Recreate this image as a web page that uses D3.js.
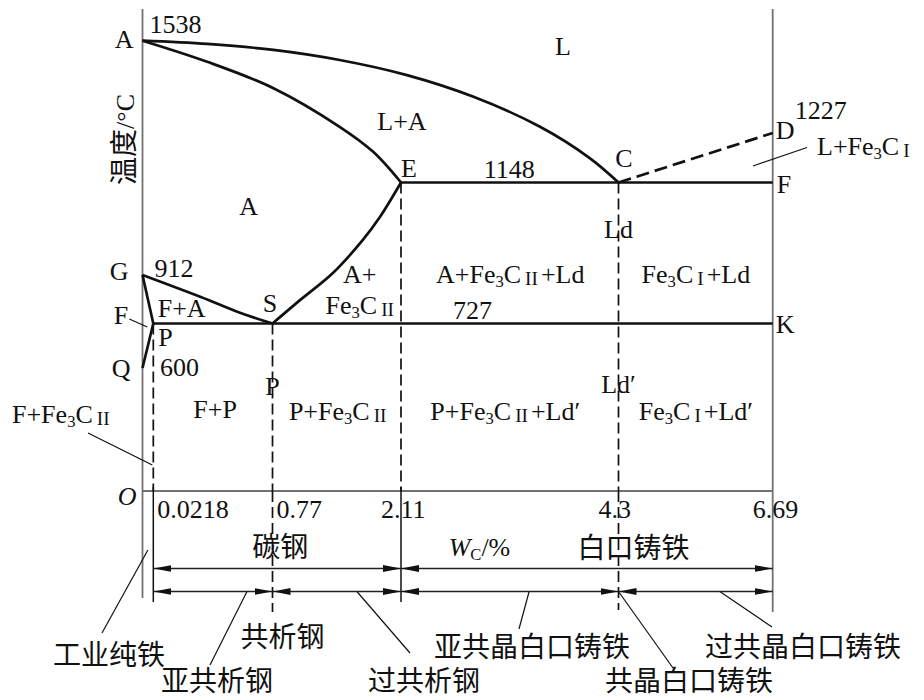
<!DOCTYPE html>
<html>
<head>
<meta charset="utf-8">
<script src="https://cdn.jsdelivr.net/npm/d3@7"></script>
<style>
  body { margin: 0; background: #fff; }
  svg { display: block; }
</style>
</head>
<body>
<svg id="chart" width="924" height="700"></svg>
<script>
// ---- Fe–Fe3C phase diagram (schematic, simplified) ----

// carbon content (wt%) of the characteristic compositions, with their tick labels
const compTicks = [0, 0.0218, 0.77, 2.11, 4.3, 6.69];
const compTickLabels = ["", "0.0218", "0.77", "2.11", "4.3", "6.69"];
// characteristic temperatures (°C)
const tempStops = [0, 600, 727, 912, 1148, 1227, 1538];

// characteristic points: carbon wt% and temperature
const keyPoints = [
  { id: "A", c: 0,      t: 1538 },
  { id: "C", c: 4.3,    t: 1148 },
  { id: "D", c: 6.69,   t: 1227 },
  { id: "E", c: 2.11,   t: 1148 },
  { id: "F", c: 6.69,   t: 1148 },
  { id: "G", c: 0,      t: 912 },
  { id: "S", c: 0.77,   t: 727 },
  { id: "P", c: 0.0218, t: 727 },
  { id: "K", c: 6.69,   t: 727 },
  { id: "Q", c: 0,      t: 600 }
];

// phase boundaries as [wt% C, °C]
const liquidusAC  = [[0, 1538], [0.36, 1527], [0.78, 1507], [1.47, 1473], [2.17, 1422], [2.84, 1349], [3.51, 1248], [4.01, 1187], [4.3, 1148]];
const solidusAE   = [[0, 1538], [0.36, 1467], [0.78, 1378], [1.47, 1248], [1.82, 1197], [2.11, 1148]];
const acmES       = [[2.11, 1148], [1.89, 1060], [1.71, 1001], [1.40, 917], [1.06, 817], [0.77, 727]];
const a3GS        = [[0, 912], [0.32, 828], [0.57, 767], [0.77, 727]];
const lineGP      = [[0, 912], [0.0218, 727]];
const linePQ      = [[0.0218, 727], [0, 600]];
const eutecticECF = [[2.11, 1148], [6.69, 1148]];
const eutectoidPSK = [[0.0218, 727], [6.69, 727]];
const primaryCD   = [[4.3, 1148], [6.69, 1227]];

// temperature values written beside the points / lines
const tempLabels = [
  { t: 1538, c: 0 }, { t: 1148, c: 3.2 }, { t: 1227, c: 6.69 },
  { t: 912, c: 0 }, { t: 727, c: 2.83 }, { t: 600, c: 0 }
];

// phase fields ( "_3" = subscript 3, "~II" = roman subscript )
const phaseLabels = [
  { text: "L",              c: 3.74, t: 1490 },
  { text: "L+A",            c: 2.12, t: 1237 },
  { text: "A",              c: 0.62, t: 1065 },
  { text: "A+",             c: 1.68, t: 881 },
  { text: "Fe_3C~II",       c: 1.68, t: 763 },
  { text: "F+A",            c: 0.20, t: 752 },
  { text: "Ld",             c: 4.3,  t: 1006 },
  { text: "A+Fe_3C~II+Ld",  c: 3.21, t: 881 },
  { text: "Fe_3C~I+Ld",     c: 5.50, t: 881 },
  { text: "Ld\u2032",       c: 4.3,  t: 478 },
  { text: "F+P",            c: 0.41, t: 356 },
  { text: "P",              c: 0.77, t: 468 },
  { text: "P+Fe_3C~II",     c: 1.45, t: 346 },
  { text: "P+Fe_3C~II+Ld\u2032", c: 3.16, t: 346 },
  { text: "Fe_3C~I+Ld\u2032",    c: 5.50, t: 346 }
];

// composition ranges of the alloy classes
const mainClasses = [
  { name: "碳钢",     from: 0.0218, to: 2.11 },
  { name: "白口铸铁", from: 2.11,   to: 6.69 }
];
const subClasses = [
  { name: "亚共析钢",       from: 0.0218, to: 0.77 },
  { name: "过共析钢",       from: 0.77,   to: 2.11 },
  { name: "亚共晶白口铸铁", from: 2.11,   to: 4.3 },
  { name: "过共晶白口铸铁", from: 4.3,    to: 6.69 }
];
const pureIron = { name: "工业纯铁", from: 0, to: 0.0218 };
const eutectoidSteel = { name: "共析钢", c: 0.77 };
const eutecticIron = { name: "共晶白口铸铁", c: 4.3 };

// ---- drawing ----
const SERIF = "'Liberation Serif', 'Times New Roman', serif";
const CJK = "'Noto Sans CJK SC', 'Noto Sans', sans-serif";
const INK = "#111";
const AXIS = "#727272";
const FS = 26;       // latin label size
const FS_CJK = 28;   // chinese label size

const svg = d3.select("#chart");

// schematic (piecewise-linear) scales
const x = d3.scaleLinear().domain(compTicks).range([142.5, 153.3, 272.5, 401, 618.5, 772.7]);
const y = d3.scaleLinear().domain(tempStops).range([491, 368, 323.5, 275, 182.5, 133, 40.7]);

const pt = id => keyPoints.find(p => p.id === id);
const px = p => [x(p.c), y(p.t)];

const plotTop = 9;
const rowMain = 568.5, rowSub = 591.5;

// frame: temperature axis, right border, composition axis
const frame = svg.append("g").attr("stroke", AXIS).attr("stroke-width", 1.8).attr("fill", "none");
frame.append("line").attr("x1", x(0)).attr("x2", x(0)).attr("y1", plotTop).attr("y2", 598);
frame.append("line").attr("x1", x(6.69)).attr("x2", x(6.69)).attr("y1", plotTop).attr("y2", 612);
frame.append("line").attr("x1", x(0)).attr("x2", x(6.69)).attr("y1", y(0)).attr("y2", y(0));

// dashed verticals from the characteristic points down to the composition axis
const dashed = svg.append("g").attr("stroke", INK).attr("stroke-width", 1.7).attr("stroke-dasharray", "11,5");
["P", "S", "E", "C"].forEach(id => {
  const p = pt(id);
  dashed.append("line").attr("x1", x(p.c)).attr("x2", x(p.c)).attr("y1", y(p.t)).attr("y2", y(0));
});
// extensions below the axis (dashed for the eutectoid/eutectic compositions)
[{ c: 0.77, end: 612 }, { c: 4.3, end: 610 }].forEach(d => {
  dashed.append("line").attr("x1", x(d.c)).attr("x2", x(d.c)).attr("y1", y(0)).attr("y2", d.end);
});
const solidExt = svg.append("g").attr("stroke", INK).attr("stroke-width", 1.5);
[{ c: 0.0218, end: 602 }, { c: 2.11, end: 602 }].forEach(d => {
  solidExt.append("line").attr("x1", x(d.c)).attr("x2", x(d.c)).attr("y1", y(0) - 4).attr("y2", d.end);
});

// phase boundary lines
const line = d3.line().x(d => x(d[0])).y(d => y(d[1]));
const curve = d3.line().x(d => x(d[0])).y(d => y(d[1])).curve(d3.curveCatmullRom.alpha(0.5));
const bounds = svg.append("g").attr("fill", "none").attr("stroke", INK).attr("stroke-width", 2.7)
  .attr("stroke-linejoin", "round");
[liquidusAC, solidusAE, acmES, a3GS].forEach(d => bounds.append("path").attr("d", curve(d)));
[lineGP, linePQ, eutecticECF, eutectoidPSK].forEach(d => bounds.append("path").attr("d", line(d)));
bounds.append("path").attr("d", line(primaryCD)).attr("stroke-dasharray", "13,6");

// rich text helper: "_3" subscript digit, "~II" roman-numeral subscript
function rich(sel, str, size) {
  const parts = str.split(/(_\d|~I+)/).filter(s => s.length);
  let shift = 0;
  parts.forEach(p => {
    const t = sel.append("tspan");
    if (p[0] === "_") {
      t.text(p.slice(1)).attr("font-size", size * 0.64).attr("dy", 4 - shift);
      shift = 4;
    } else if (p[0] === "~") {
      t.text(p.slice(1)).attr("font-size", size * 0.74).attr("dx", 4).attr("dy", 2 - shift);
      shift = 2;
    } else {
      t.text(p).attr("dy", -shift);
      if (shift === 2) t.attr("dx", 3);
      shift = 0;
    }
  });
  return sel;
}

const txt = svg.append("g").attr("font-family", SERIF).attr("font-size", FS).attr("fill", INK);

// point letters
const pointLabelLayout = {
  A: { anchor: "end", dx: -9, dy: 7.5 },
  C: { anchor: "middle", dx: 5.5, dy: -15.5 },
  D: { anchor: "start", dx: 3, dy: 6 },
  E: { anchor: "start", dx: 0, dy: -6 },
  F: { anchor: "start", dx: 4, dy: 10.5 },
  G: { anchor: "end", dx: -14, dy: 5 },
  S: { anchor: "middle", dx: -2.5, dy: -11.5 },
  P: { anchor: "start", dx: 5, dy: 22.5 },
  K: { anchor: "start", dx: 3, dy: 9.5 },
  Q: { anchor: "end", dx: -12, dy: 9 }
};
keyPoints.forEach(p => {
  const l = pointLabelLayout[p.id];
  const [cx, cy] = px(p);
  txt.append("text").attr("x", cx + l.dx).attr("y", cy + l.dy).attr("text-anchor", l.anchor).text(p.id);
});
// second letter at P (ferrite solubility limit) with its leader
{
  const [cx, cy] = px(pt("P"));
  txt.append("text").attr("x", cx - 25).attr("y", cy).attr("text-anchor", "end").text("F");
  svg.append("line").attr("x1", cx - 24).attr("y1", cy - 4.5).attr("x2", cx - 6).attr("y2", cy + 3.5)
    .attr("stroke", INK).attr("stroke-width", 1.2);
}

// temperature values
const tempLabelLayout = {
  1538: { anchor: "start", dx: 7, dy: -8 },
  1148: { anchor: "middle", dx: 0, dy: -4.5 },
  1227: { anchor: "start", dx: 22, dy: -14 },
  912:  { anchor: "start", dx: 12, dy: 2 },
  727:  { anchor: "middle", dx: 0, dy: -4.5 },
  600:  { anchor: "start", dx: 17.5, dy: 8 }
};
tempLabels.forEach(d => {
  const l = tempLabelLayout[d.t];
  txt.append("text").attr("x", x(d.c) + l.dx).attr("y", y(d.t) + l.dy)
    .attr("text-anchor", l.anchor).text(String(d.t));
});

// phase fields
phaseLabels.forEach(d => {
  rich(txt.append("text").attr("x", x(d.c)).attr("y", y(d.t)).attr("text-anchor", "middle"), d.text, FS);
});

// callouts for the narrow fields
const leaders = svg.append("g").attr("stroke", INK).attr("stroke-width", 1.2);
rich(txt.append("text").attr("x", 817).attr("y", 155), "L+Fe_3C~I", FS);
leaders.append("line").attr("x1", 807).attr("y1", 147.5).attr("x2", 753).attr("y2", 166);
rich(txt.append("text").attr("x", 12).attr("y", 423), "F+Fe_3C~II", FS);
leaders.append("line").attr("x1", 88).attr("y1", 433).attr("x2", x(0.0218) - 1).attr("y2", 465);

// origin and composition tick values
txt.append("text").attr("x", x(0) - 6).attr("y", 505).attr("text-anchor", "end")
  .attr("font-style", "italic").text("O");
compTicks.forEach((c, i) => {
  if (!compTickLabels[i]) return;
  txt.append("text").attr("x", x(c) + (c < 1 ? 4 : -20)).attr("y", 518).text(compTickLabels[i]);
});

// composition axis title W_C/%
{
  const t = txt.append("text").attr("x", x(2.9)).attr("y", 556).attr("text-anchor", "middle");
  t.append("tspan").attr("font-style", "italic").text("W");
  t.append("tspan").attr("font-size", FS * 0.64).attr("dy", 4).text("C");
  t.append("tspan").attr("dy", -4).text("/%");
}

// temperature axis title
{
  const t = svg.append("text").attr("transform", "translate(134,139.5) rotate(-90)")
    .attr("text-anchor", "middle").attr("fill", INK);
  t.append("tspan").attr("font-family", CJK).attr("font-size", FS_CJK).text("温度");
  t.append("tspan").attr("font-family", SERIF).attr("font-size", FS).text("/°C");
}

// double-headed dimension arrows for the alloy classes
const defs = svg.append("defs");
defs.append("marker").attr("id", "head").attr("viewBox", "0 0 18 8").attr("refX", 18).attr("refY", 4)
  .attr("markerWidth", 18).attr("markerHeight", 8).attr("markerUnits", "userSpaceOnUse")
  .attr("orient", "auto-start-reverse")
  .append("path").attr("d", "M0,0.6 L18,4 L0,7.4 Z").attr("fill", INK);

const dims = svg.append("g").attr("stroke", "#222").attr("stroke-width", 1.5);
mainClasses.forEach(d => {
  dims.append("line").attr("x1", x(d.from)).attr("x2", x(d.to)).attr("y1", rowMain).attr("y2", rowMain)
    .attr("marker-start", "url(#head)").attr("marker-end", "url(#head)");
});
subClasses.forEach(d => {
  dims.append("line").attr("x1", x(d.from)).attr("x2", x(d.to)).attr("y1", rowSub).attr("y2", rowSub)
    .attr("marker-start", "url(#head)").attr("marker-end", "url(#head)");
});

// class names
const cjk = svg.append("g").attr("font-family", CJK).attr("font-size", FS_CJK).attr("fill", INK)
  .attr("text-anchor", "middle");
cjk.append("text").attr("x", (x(mainClasses[0].from) + x(mainClasses[0].to)) / 2 + 3).attr("y", 557).text(mainClasses[0].name);
cjk.append("text").attr("x", x(4.3) + 15).attr("y", 558).text(mainClasses[1].name);

// names below the arrows, each with a leader to its range
const calloutLayout = [
  { name: pureIron.name,       lx: 109, ly: 664.5, from: [102, 633], c: (pureIron.from + pureIron.to) / 2, ty: 550 },
  { name: subClasses[0].name,  lx: 217, ly: 691,   from: [210, 665], c: 0.61, ty: rowSub },
  { name: subClasses[1].name,  lx: 424, ly: 691,   from: [410, 653], c: 1.65, ty: rowSub },
  { name: subClasses[2].name,  lx: 532, ly: 657,   from: [519, 629], c: 3.40, ty: rowSub },
  { name: eutecticIron.name,   lx: 689, ly: 691,   from: [673, 668], c: eutecticIron.c, ty: rowSub },
  { name: subClasses[3].name,  lx: 803, ly: 657,   from: [772, 627], c: 5.87, ty: rowSub }
];
calloutLayout.forEach(d => {
  cjk.append("text").attr("x", d.lx).attr("y", d.ly).text(d.name);
  leaders.append("line").attr("x1", d.from[0]).attr("y1", d.from[1]).attr("x2", x(d.c)).attr("y2", d.ty);
});
cjk.append("text").attr("x", x(eutectoidSteel.c) + 10).attr("y", 647).text(eutectoidSteel.name);
</script>
</body>
</html>
